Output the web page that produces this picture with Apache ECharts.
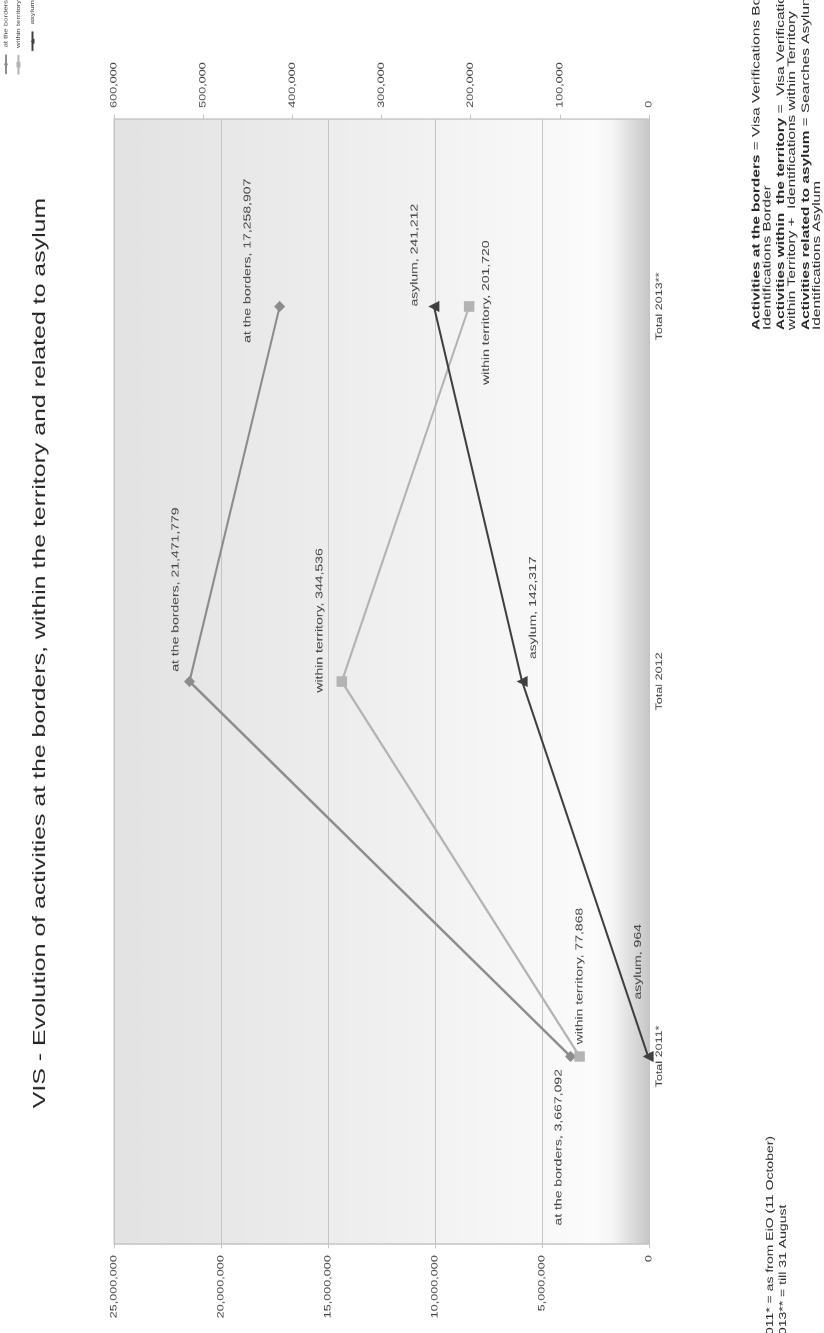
<!DOCTYPE html>
<html>
<head>
<meta charset="utf-8">
<script src="https://cdn.jsdelivr.net/npm/echarts@6/dist/echarts.min.js"></script>
<style>
  html, body { margin: 0; padding: 0; background: #fff; overflow: hidden; width: 824px; height: 1333px; }
  #chart { position: absolute; left: 0; top: 0; height: 824px; transform-origin: 0 0; }
</style>
</head>
<body>
<div id="chart"></div>
<script>
// ---- data ----
const categories = ['Total 2011*', 'Total 2012', 'Total 2013**'];
const seriesNames = ['at the borders', 'within territory', 'asylum'];
const atTheBorders = [3667092, 21471779, 17258907];
const withinTerritory = [77868, 344536, 201720];
const asylum = [964, 142317, 241212];
const primaryTicks = [0, 5000000, 10000000, 15000000, 20000000, 25000000];
const secondaryTicks = [0, 100000, 200000, 300000, 400000, 500000, 600000];

const titleText = 'VIS - Evolution of activities at the borders, within the territory and related to asylum';
const footnoteText = '2011* = as from EiO (11 October)\n2013** = till 31 August';
const definitions = [
  ['Activities at the borders', ' = Visa Verifications Border +', 'Identifications Border'],
  ['Activities within  the territory', ' =  Visa Verifications', 'within Territory +  Identifications within Territory'],
  ['Activities related to asylum', ' = Searches Asylum +', 'Identifications Asylum']
];

// ---- layout ----
// The chart is laid out landscape, stretched horizontally and turned a quarter turn.
const S = 1.4;
const W = 1333 / S, H = 824;
const FONT = '"Liberation Sans", Arial, Helvetica, sans-serif';
const TEXT = '#404040';
const GRID_LINE = '#c4c4c4';

// label placement per point: [align, dx, dy]
const placeBorders = [['right', -9, -12], ['left', 7, -14], ['left', -26, -32]];
const placeWithin = [['left', 8.6, 0], ['left', -8, -22], ['left', -56, 17]];
const placeAsylum = [['left', 40.7, -10], ['left', 16, 11], ['left', 0, -19]];

const fmt = v => Number(v).toLocaleString('en-US');

const el = document.getElementById('chart');
el.style.width = W + 'px';
el.style.transform = 'translate(0px, 1333px) rotate(-90deg) scaleX(' + S + ')';

const chart = echarts.init(el, null, { renderer: 'canvas', width: W, height: H, devicePixelRatio: 2 });

function points(values, place) {
  return values.map((v, i) => ({
    value: v,
    label: { align: place[i][0], offset: [place[i][1], place[i][2]] }
  }));
}

const pointLabel = {
  show: true,
  position: 'inside',
  verticalAlign: 'middle',
  color: TEXT,
  fontSize: 10,
  fontFamily: FONT,
  formatter: p => p.seriesName + ', ' + fmt(p.value)
};

function lineSeries(name, values, place, axis, color, symbol, size) {
  return {
    name: name,
    type: 'line',
    yAxisIndex: axis,
    data: points(values, place),
    symbol: symbol,
    symbolSize: size,
    showAllSymbol: true,
    lineStyle: { color: color, width: 2 },
    itemStyle: { color: color },
    label: pointLabel,
    emphasis: { disabled: true },
    z: 3
  };
}

const legendTops = [3, 15.5, 29.5];

const option = {
  animation: false,
  textStyle: { fontFamily: FONT },
  grid: {
    left: 89 / S, right: 119 / S, top: 114, bottom: 175,
    show: true,
    borderColor: GRID_LINE,
    borderWidth: 1,
    backgroundColor: new echarts.graphic.LinearGradient(0, 0, 0, 1, [
      { offset: 0, color: '#e2e2e2' },
      { offset: 0.5, color: '#efefef' },
      { offset: 0.9, color: '#fbfbfb' },
      { offset: 0.93, color: '#f6f6f6' },
      { offset: 1, color: '#c6c6c6' }
    ])
  },
  legend: seriesNames.map((n, i) => ({
    data: [n],
    right: 0,
    top: legendTops[i],
    padding: 0,
    itemWidth: 14,
    itemHeight: 5,
    selectedMode: false,
    textStyle: { fontSize: 5.5, color: TEXT, fontFamily: FONT }
  })),
  xAxis: {
    type: 'category',
    data: categories,
    boundaryGap: true,
    axisLine: { show: false },
    axisTick: { show: false },
    axisLabel: { margin: 6, fontSize: 9, color: TEXT, fontFamily: FONT }
  },
  yAxis: [
    {
      type: 'value',
      position: 'left',
      min: primaryTicks[0],
      max: primaryTicks[primaryTicks.length - 1],
      interval: primaryTicks[1] - primaryTicks[0],
      axisLine: { show: false },
      axisTick: { show: true, length: 3, lineStyle: { color: GRID_LINE } },
      splitLine: { show: true, lineStyle: { color: GRID_LINE, width: 1 } },
      axisLabel: { margin: 8, fontSize: 9, color: TEXT, fontFamily: FONT, formatter: fmt }
    },
    {
      type: 'value',
      position: 'right',
      min: secondaryTicks[0],
      max: secondaryTicks[secondaryTicks.length - 1],
      interval: secondaryTicks[1] - secondaryTicks[0],
      axisLine: { show: false },
      axisTick: { show: true, length: 3, lineStyle: { color: GRID_LINE } },
      splitLine: { show: false },
      axisLabel: { margin: 8, fontSize: 9, color: TEXT, fontFamily: FONT, formatter: fmt }
    }
  ],
  series: [
    lineSeries(seriesNames[0], atTheBorders, placeBorders, 0, '#8c8c8c', 'diamond', [8, 11]),
    lineSeries(seriesNames[1], withinTerritory, placeWithin, 1, '#b3b3b3', 'rect', [7.5, 10.5]),
    lineSeries(seriesNames[2], asylum, placeAsylum, 1, '#3f3f3f', 'triangle', [8, 11])
  ],
  graphic: [
    {
      type: 'text', x: 680 / S, y: 40, z: 10,
      style: { text: titleText, font: 'normal 17.8px ' + FONT, fill: '#262626', align: 'center', verticalAlign: 'middle' }
    },
    {
      type: 'text', x: -7, y: 776.5, z: 10,
      style: { text: footnoteText, font: 'normal 10px ' + FONT, lineHeight: 13, fill: '#262626', align: 'left', verticalAlign: 'middle' }
    }
  ].concat(definitions.map((d, i) => ({
    type: 'text', x: 1003 / S, y: [762, 786.5, 811.5][i], z: 10,
    style: {
      text: '{b|' + d[0] + '}{r|' + d[1] + '}\n{r|' + d[2] + '}',
      align: 'left', verticalAlign: 'middle',
      fill: '#262626',
      rich: {
        b: { fontWeight: 'bold', fontSize: 11, lineHeight: 11, fontFamily: FONT, fill: '#262626' },
        r: { fontWeight: 'normal', fontSize: 11, lineHeight: 11, fontFamily: FONT, fill: '#262626' }
      }
    }
  })))
};

chart.setOption(option);
</script>
</body>
</html>
